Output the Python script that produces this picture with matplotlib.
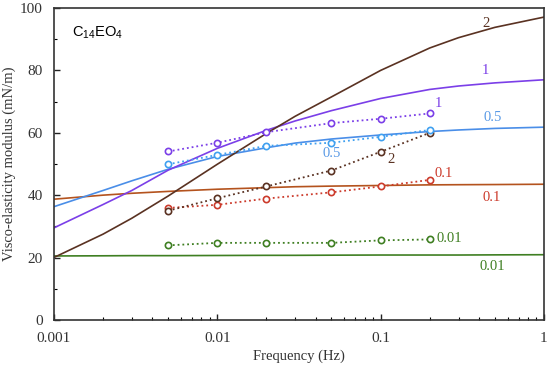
import matplotlib
matplotlib.use('Agg')
import matplotlib.pyplot as plt

plt.rcParams['font.family'] = 'Liberation Serif'
plt.rcParams['mathtext.fontset'] = 'custom'
plt.rcParams['mathtext.rm'] = 'Liberation Sans'

# measured points (dotted)
freq_pts = [0.005, 0.01, 0.02, 0.05, 0.1, 0.2]
meas_2 = [35, 39, 42.8, 47.9, 53.9, 60]
meas_1 = [54, 56.8, 60.2, 63.1, 64.5, 66.2]
meas_05 = [49.9, 52.9, 55.8, 56.8, 58.7, 60.9]
meas_01 = [35.9, 36.9, 38.9, 40.9, 42.8, 44.9]
meas_001 = [23.9, 24.7, 24.7, 24.7, 25.5, 25.8]

# model curves (solid)
freq_fit = [0.001, 0.002, 0.003, 0.005, 0.01, 0.02, 0.03, 0.05, 0.1, 0.2, 0.3, 0.5, 1]
fit_2 = [20, 27.5, 32.6, 39.7, 49.9, 59.8, 65.3, 71.5, 80, 87.2, 90.5, 93.8, 97.1]
fit_1 = [29.5, 37, 41.5, 48, 55, 60.8, 63.8, 67.1, 71, 73.9, 75, 76, 77]
fit_05 = [36.3, 41.5, 44.6, 48.3, 52.4, 55.2, 56.7, 58, 59.3, 60.4, 60.9, 61.4, 61.8]
fit_01 = [38.7, 40.0, 40.6, 41.2, 41.9, 42.4, 42.7, 42.9, 43.1, 43.3, 43.35, 43.4, 43.5]
fit_001 = [20.5, 20.55, 20.6, 20.6, 20.65, 20.7, 20.7, 20.75, 20.8, 20.8, 20.8, 20.85, 20.9]

c_2 = '#5a3222'
c_1 = '#7b3fe8'
c_05 = '#4a8ee8'
c_01 = '#b4531e'
c_01m = '#cc3b2c'
c_001 = '#3f7f22'

fig = plt.figure(figsize=(5.5, 3.66), dpi=100)
ax = fig.add_axes([0.098, 0.126, 0.891, 0.852])

ax.plot(freq_fit, fit_001, color=c_001, lw=1.2)
ax.plot(freq_fit, fit_01, color=c_01, lw=1.2)
ax.plot(freq_fit, fit_05, color=c_05, lw=1.2)
ax.plot(freq_fit, fit_1, color=c_1, lw=1.2)
ax.plot(freq_fit, fit_2, color=c_2, lw=1.2)

mk = dict(ls=':', lw=1.3, marker='o', ms=4.5, mfc='white', mew=1.2)
ax.plot(freq_pts, meas_001, color=c_001, **mk)
ax.plot(freq_pts, meas_01, color=c_01m, **mk)
ax.plot(freq_pts, meas_2, color=c_2, **mk)
ax.plot(freq_pts, meas_05, color='#3fa0f0', **mk)
ax.plot(freq_pts, meas_1, color=c_1, **mk)

ax.set_xscale('log')
ax.set_xlim(0.001, 1)
ax.set_ylim(0, 100)
ax.set_yticks(range(0, 101, 20))
ax.set_yticks(range(10, 100, 20), minor=True)
ax.set_xticks([0.001, 0.01, 0.1, 1])
ax.set_xticklabels(['0.001', '0.01', '0.1', '1'])
ax.tick_params(direction='in', labelsize=11, length=4, width=1, colors='#222222', labelcolor='#333333')
ax.tick_params(axis='y', pad=8)
ax.tick_params(axis='x', pad=9)
ax.tick_params(which='minor', direction='in', length=2.5, width=0.8)
for s in ax.spines.values():
    s.set_linewidth(1.2)
    s.set_color('#333333')

ax.set_xlabel('Frequency (Hz)', fontsize=10.5, color='#333333', labelpad=3)
ax.set_ylabel('Visco-elasticity modulus (mN/m)', fontsize=10.5, color='#333333', labelpad=3)

ax.text(0.036, 0.92, r'C$_{14}$EO$_4$', transform=ax.transAxes, fontsize=10.5,
        family='Liberation Sans', va='center', ha='left')

fs = 10.5
ax.text(0.44, 95.2, '2', color=c_2, fontsize=fs, ha='center', va='center')
ax.text(0.44, 80.1, '1', color=c_1, fontsize=fs, ha='center', va='center')
ax.text(0.486, 65, '0.5', color='#5a9ae6', fontsize=fs, ha='center', va='center')
ax.text(0.227, 69.5, '1', color=c_1, fontsize=fs, ha='center', va='center')
ax.text(0.05, 53.5, '0.5', color='#5a9ae6', fontsize=fs, ha='center', va='center')
ax.text(0.115, 51.3, '2', color=c_2, fontsize=fs, ha='center', va='center')
ax.text(0.244, 46.8, '0.1', color=c_01m, fontsize=fs, ha='center', va='center')
ax.text(0.48, 39.4, '0.1', color=c_01m, fontsize=fs, ha='center', va='center')
ax.text(0.265, 26, '0.01', color=c_001, fontsize=fs, ha='center', va='center')
ax.text(0.486, 17, '0.01', color=c_001, fontsize=fs, ha='center', va='center')

fig.savefig('out.png', dpi=100)
